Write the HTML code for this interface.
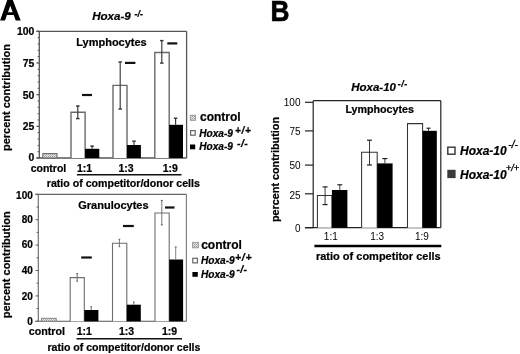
<!DOCTYPE html>
<html><head><meta charset="utf-8"><style>
html,body{margin:0;padding:0;background:#fff;}
svg{display:block;will-change:transform;}
text{font-family:"Liberation Sans", sans-serif;fill:#000;}
text[font-weight="bold"]{stroke:#000;stroke-width:0.22px;}
</style></head><body>
<svg width="520" height="354" viewBox="0 0 520 354">
<defs><pattern id="ht" width="2" height="2" patternUnits="userSpaceOnUse"><rect width="2" height="2" fill="#e6e6e6"/><rect width="1" height="1" fill="#9a9a9a"/><rect x="1" y="1" width="1" height="1" fill="#b5b5b5"/></pattern></defs>
<rect width="520" height="354" fill="#fff"/>
<path d="M0.1,20.4 L7.6,-1 L12.4,-1 L20.7,20.4 L15.7,20.4 L13.7,14.9 L6.9,14.9 L5.0,20.4 Z M10.3,5.8 L8.0,12.2 L12.7,12.2 Z" fill="#000" fill-rule="evenodd"/>
<g transform="translate(272.2,20.5) scale(0.905,1)"><text x="-1.9" y="0" font-size="29" font-weight="bold" style="stroke-width:0.7px">B</text></g>
<line x1="39.30" y1="31.30" x2="39.30" y2="158.00" stroke="#555" stroke-width="1.3"/>
<line x1="36.50" y1="31.30" x2="186.60" y2="31.30" stroke="#555" stroke-width="1.3"/>
<line x1="186.60" y1="31.30" x2="186.60" y2="158.00" stroke="#555" stroke-width="1.3"/>
<line x1="36.50" y1="158.00" x2="186.60" y2="158.00" stroke="#555" stroke-width="1.3"/>
<line x1="36.50" y1="158.00" x2="39.30" y2="158.00" stroke="#555" stroke-width="1.3"/>
<text x="34.40" y="161.22" font-size="10.4" font-weight="bold" font-style="normal" text-anchor="end" >0</text>
<line x1="36.50" y1="126.33" x2="39.30" y2="126.33" stroke="#555" stroke-width="1.3"/>
<text x="34.40" y="129.72" font-size="10.4" font-weight="bold" font-style="normal" text-anchor="end" >25</text>
<line x1="36.50" y1="94.65" x2="39.30" y2="94.65" stroke="#555" stroke-width="1.3"/>
<text x="34.40" y="99.12" font-size="10.4" font-weight="bold" font-style="normal" text-anchor="end" >50</text>
<line x1="36.50" y1="62.98" x2="39.30" y2="62.98" stroke="#555" stroke-width="1.3"/>
<text x="34.40" y="67.42" font-size="10.4" font-weight="bold" font-style="normal" text-anchor="end" >75</text>
<line x1="36.50" y1="31.30" x2="39.30" y2="31.30" stroke="#555" stroke-width="1.3"/>
<text x="34.40" y="34.92" font-size="10.4" font-weight="bold" font-style="normal" text-anchor="end" >100</text>
<line x1="37.50" y1="151.66" x2="39.30" y2="151.66" stroke="#555" stroke-width="0.9"/>
<line x1="37.50" y1="145.33" x2="39.30" y2="145.33" stroke="#555" stroke-width="0.9"/>
<line x1="37.50" y1="139.00" x2="39.30" y2="139.00" stroke="#555" stroke-width="0.9"/>
<line x1="37.50" y1="132.66" x2="39.30" y2="132.66" stroke="#555" stroke-width="0.9"/>
<line x1="37.50" y1="119.99" x2="39.30" y2="119.99" stroke="#555" stroke-width="0.9"/>
<line x1="37.50" y1="113.66" x2="39.30" y2="113.66" stroke="#555" stroke-width="0.9"/>
<line x1="37.50" y1="107.32" x2="39.30" y2="107.32" stroke="#555" stroke-width="0.9"/>
<line x1="37.50" y1="100.99" x2="39.30" y2="100.99" stroke="#555" stroke-width="0.9"/>
<line x1="37.50" y1="88.32" x2="39.30" y2="88.32" stroke="#555" stroke-width="0.9"/>
<line x1="37.50" y1="81.98" x2="39.30" y2="81.98" stroke="#555" stroke-width="0.9"/>
<line x1="37.50" y1="75.65" x2="39.30" y2="75.65" stroke="#555" stroke-width="0.9"/>
<line x1="37.50" y1="69.31" x2="39.30" y2="69.31" stroke="#555" stroke-width="0.9"/>
<line x1="37.50" y1="56.64" x2="39.30" y2="56.64" stroke="#555" stroke-width="0.9"/>
<line x1="37.50" y1="50.31" x2="39.30" y2="50.31" stroke="#555" stroke-width="0.9"/>
<line x1="37.50" y1="43.97" x2="39.30" y2="43.97" stroke="#555" stroke-width="0.9"/>
<line x1="37.50" y1="37.64" x2="39.30" y2="37.64" stroke="#555" stroke-width="0.9"/>
<text transform="translate(10.30,97.60) rotate(-90)" x="0" y="0" font-size="11" font-weight="bold" text-anchor="middle">percent contribution</text>
<text x="111.50" y="20.20" font-size="11.6" font-weight="bold" font-style="italic" text-anchor="middle" >Hoxa-9</text>
<text x="134.40" y="17.10" font-size="9" font-weight="bold" font-style="italic" text-anchor="start" >-/-</text>
<text x="111.50" y="46.00" font-size="11" font-weight="bold" font-style="normal" text-anchor="middle" >Lymphocytes</text>
<rect x="42.80" y="153.60" width="14.20" height="4.40" fill="url(#ht)" stroke="#666" stroke-width="1"/>
<path d="M71.00,158.00 V112.30 H85.10 V158.00" fill="#fff" stroke="#6a6a6a" stroke-width="1.4"/>
<rect x="85.10" y="148.80" width="14.20" height="9.20" fill="#000"/>
<path d="M113.00,158.00 V85.40 H127.00 V158.00" fill="#fff" stroke="#6a6a6a" stroke-width="1.4"/>
<rect x="127.00" y="145.00" width="13.90" height="13.00" fill="#000"/>
<path d="M154.80,158.00 V52.50 H169.20 V158.00" fill="#fff" stroke="#6a6a6a" stroke-width="1.4"/>
<rect x="169.20" y="124.80" width="13.80" height="33.20" fill="#000"/>
<line x1="77.80" y1="106.00" x2="77.80" y2="118.60" stroke="#333" stroke-width="1.15"/>
<line x1="76.05" y1="106.00" x2="79.55" y2="106.00" stroke="#333" stroke-width="1.45"/>
<line x1="76.05" y1="118.60" x2="79.55" y2="118.60" stroke="#333" stroke-width="1.45"/>
<line x1="92.10" y1="146.10" x2="92.10" y2="148.80" stroke="#333" stroke-width="1.15"/>
<line x1="90.35" y1="146.10" x2="93.85" y2="146.10" stroke="#333" stroke-width="1.45"/>
<line x1="120.20" y1="62.00" x2="120.20" y2="109.00" stroke="#3a3a3a" stroke-width="1.15"/>
<line x1="118.45" y1="62.00" x2="121.95" y2="62.00" stroke="#3a3a3a" stroke-width="1.45"/>
<line x1="118.45" y1="109.00" x2="121.95" y2="109.00" stroke="#3a3a3a" stroke-width="1.45"/>
<line x1="134.00" y1="141.20" x2="134.00" y2="145.00" stroke="#333" stroke-width="1.15"/>
<line x1="132.25" y1="141.20" x2="135.75" y2="141.20" stroke="#333" stroke-width="1.45"/>
<line x1="161.80" y1="40.60" x2="161.80" y2="63.10" stroke="#3a3a3a" stroke-width="1.15"/>
<line x1="160.05" y1="40.60" x2="163.55" y2="40.60" stroke="#3a3a3a" stroke-width="1.45"/>
<line x1="160.05" y1="63.10" x2="163.55" y2="63.10" stroke="#3a3a3a" stroke-width="1.45"/>
<line x1="175.60" y1="118.20" x2="175.60" y2="124.80" stroke="#333" stroke-width="1.15"/>
<line x1="173.85" y1="118.20" x2="177.35" y2="118.20" stroke="#333" stroke-width="1.45"/>
<line x1="82.00" y1="95.00" x2="92.00" y2="95.00" stroke="#111" stroke-width="2.2"/>
<line x1="125.00" y1="62.90" x2="135.40" y2="62.90" stroke="#111" stroke-width="2.2"/>
<line x1="167.30" y1="43.40" x2="177.30" y2="43.40" stroke="#111" stroke-width="2.2"/>
<rect x="190.30" y="115.30" width="5.20" height="5.00" fill="url(#ht)" stroke="#999" stroke-width="1"/>
<text x="200.00" y="120.50" font-size="12" font-weight="bold" font-style="normal" text-anchor="start" >control</text>
<rect x="190.60" y="130.60" width="4.60" height="4.60" fill="#fff" stroke="#666" stroke-width="1.2"/>
<text x="199.30" y="136.90" font-size="10.1" font-weight="bold" font-style="italic" text-anchor="start" >Hoxa-9</text>
<text x="234.90" y="133.90" font-size="10" font-weight="bold" font-style="italic" text-anchor="start" letter-spacing="0.7">+/+</text>
<rect x="190.00" y="144.50" width="5.20" height="4.80" fill="#000"/>
<text x="199.30" y="149.70" font-size="10.1" font-weight="bold" font-style="italic" text-anchor="start" >Hoxa-9</text>
<text x="236.90" y="147.40" font-size="10.5" font-weight="bold" font-style="italic" text-anchor="start" letter-spacing="0.5">-/-</text>
<text x="48.50" y="171.60" font-size="10.5" font-weight="bold" font-style="normal" text-anchor="middle" >control</text>
<text x="84.50" y="171.50" font-size="10.5" font-weight="bold" font-style="normal" text-anchor="middle" >1:1</text>
<text x="126.00" y="171.50" font-size="10.5" font-weight="bold" font-style="normal" text-anchor="middle" >1:3</text>
<text x="170.30" y="171.50" font-size="10.5" font-weight="bold" font-style="normal" text-anchor="middle" >1:9</text>
<line x1="76.90" y1="174.70" x2="181.50" y2="174.70" stroke="#111" stroke-width="1.5"/>
<text x="46.80" y="186.70" font-size="10.6" font-weight="bold" font-style="normal" text-anchor="start" >ratio of competitor/donor cells</text>
<line x1="38.30" y1="194.30" x2="38.30" y2="321.30" stroke="#666" stroke-width="1.1"/>
<line x1="35.50" y1="194.30" x2="186.40" y2="194.30" stroke="#666" stroke-width="1.2"/>
<line x1="186.40" y1="194.30" x2="186.40" y2="321.30" stroke="#777" stroke-width="1.1"/>
<line x1="35.50" y1="321.30" x2="186.40" y2="321.30" stroke="#555" stroke-width="1.1"/>
<line x1="35.50" y1="321.30" x2="38.30" y2="321.30" stroke="#666" stroke-width="1.1"/>
<text x="32.80" y="324.65" font-size="10" font-weight="bold" font-style="normal" text-anchor="end" >0</text>
<line x1="35.50" y1="295.90" x2="38.30" y2="295.90" stroke="#666" stroke-width="1.1"/>
<text x="32.80" y="299.65" font-size="10" font-weight="bold" font-style="normal" text-anchor="end" >20</text>
<line x1="35.50" y1="270.50" x2="38.30" y2="270.50" stroke="#666" stroke-width="1.1"/>
<text x="32.80" y="274.00" font-size="10" font-weight="bold" font-style="normal" text-anchor="end" >40</text>
<line x1="35.50" y1="245.10" x2="38.30" y2="245.10" stroke="#666" stroke-width="1.1"/>
<text x="32.80" y="248.30" font-size="10" font-weight="bold" font-style="normal" text-anchor="end" >60</text>
<line x1="35.50" y1="219.70" x2="38.30" y2="219.70" stroke="#666" stroke-width="1.1"/>
<text x="32.80" y="223.40" font-size="10" font-weight="bold" font-style="normal" text-anchor="end" >80</text>
<line x1="35.50" y1="194.30" x2="38.30" y2="194.30" stroke="#666" stroke-width="1.1"/>
<text x="32.80" y="198.80" font-size="10" font-weight="bold" font-style="normal" text-anchor="end" >100</text>
<line x1="36.50" y1="308.60" x2="38.30" y2="308.60" stroke="#555" stroke-width="0.9"/>
<line x1="36.50" y1="283.20" x2="38.30" y2="283.20" stroke="#555" stroke-width="0.9"/>
<line x1="36.50" y1="257.80" x2="38.30" y2="257.80" stroke="#555" stroke-width="0.9"/>
<line x1="36.50" y1="232.40" x2="38.30" y2="232.40" stroke="#555" stroke-width="0.9"/>
<line x1="36.50" y1="207.00" x2="38.30" y2="207.00" stroke="#555" stroke-width="0.9"/>
<text transform="translate(10.00,264.80) rotate(-90)" x="0" y="0" font-size="11" font-weight="bold" text-anchor="middle">percent contribution</text>
<text x="113.40" y="208.80" font-size="11" font-weight="bold" font-style="normal" text-anchor="middle" >Granulocytes</text>
<rect x="41.50" y="318.30" width="14.70" height="3.00" fill="url(#ht)" stroke="#888" stroke-width="1"/>
<path d="M70.20,321.30 V277.60 H84.30 V321.30" fill="#fff" stroke="#6e6e6e" stroke-width="1.1"/>
<rect x="84.30" y="310.00" width="14.10" height="11.30" fill="#000"/>
<path d="M112.50,321.30 V243.20 H126.80 V321.30" fill="#fff" stroke="#6e6e6e" stroke-width="1.1"/>
<rect x="126.80" y="304.70" width="14.00" height="16.60" fill="#000"/>
<path d="M155.00,321.30 V213.00 H169.20 V321.30" fill="#fff" stroke="#6e6e6e" stroke-width="1.1"/>
<rect x="169.20" y="259.50" width="13.90" height="61.80" fill="#000"/>
<line x1="77.20" y1="273.60" x2="77.20" y2="281.20" stroke="#666" stroke-width="0.9"/>
<line x1="76.40" y1="273.60" x2="78.00" y2="273.60" stroke="#666" stroke-width="1.2"/>
<line x1="76.40" y1="281.20" x2="78.00" y2="281.20" stroke="#666" stroke-width="1.2"/>
<line x1="91.20" y1="306.80" x2="91.20" y2="310.00" stroke="#666" stroke-width="0.9"/>
<line x1="90.40" y1="306.80" x2="92.00" y2="306.80" stroke="#666" stroke-width="1.2"/>
<line x1="119.40" y1="239.40" x2="119.40" y2="246.60" stroke="#666" stroke-width="0.9"/>
<line x1="118.60" y1="239.40" x2="120.20" y2="239.40" stroke="#666" stroke-width="1.2"/>
<line x1="118.60" y1="246.60" x2="120.20" y2="246.60" stroke="#666" stroke-width="1.2"/>
<line x1="133.80" y1="302.00" x2="133.80" y2="304.70" stroke="#666" stroke-width="0.9"/>
<line x1="133.00" y1="302.00" x2="134.60" y2="302.00" stroke="#666" stroke-width="1.2"/>
<line x1="161.80" y1="200.50" x2="161.80" y2="224.80" stroke="#666" stroke-width="0.9"/>
<line x1="160.80" y1="200.50" x2="162.80" y2="200.50" stroke="#666" stroke-width="1.2"/>
<line x1="160.80" y1="224.80" x2="162.80" y2="224.80" stroke="#666" stroke-width="1.2"/>
<line x1="175.70" y1="247.00" x2="175.70" y2="259.50" stroke="#777" stroke-width="0.9"/>
<line x1="174.70" y1="247.00" x2="176.70" y2="247.00" stroke="#777" stroke-width="1.2"/>
<line x1="81.20" y1="257.50" x2="91.80" y2="257.50" stroke="#111" stroke-width="2.2"/>
<line x1="123.00" y1="226.00" x2="133.80" y2="226.00" stroke="#111" stroke-width="2.2"/>
<line x1="165.00" y1="207.50" x2="174.50" y2="207.50" stroke="#111" stroke-width="2.2"/>
<rect x="192.60" y="242.40" width="5.80" height="5.40" fill="url(#ht)" stroke="#999" stroke-width="1"/>
<text x="201.20" y="248.50" font-size="12" font-weight="bold" font-style="normal" text-anchor="start" >control</text>
<rect x="192.80" y="258.30" width="4.60" height="4.60" fill="#fff" stroke="#666" stroke-width="1.2"/>
<text x="201.00" y="263.90" font-size="10.1" font-weight="bold" font-style="italic" text-anchor="start" >Hoxa-9</text>
<text x="235.00" y="260.60" font-size="10.5" font-weight="bold" font-style="italic" text-anchor="start" letter-spacing="0.7">+/+</text>
<rect x="192.40" y="272.00" width="5.40" height="4.80" fill="#000"/>
<text x="201.00" y="277.80" font-size="10.1" font-weight="bold" font-style="italic" text-anchor="start" >Hoxa-9</text>
<text x="236.40" y="273.30" font-size="10.5" font-weight="bold" font-style="italic" text-anchor="start" letter-spacing="0.3">-/-</text>
<text x="46.80" y="334.60" font-size="10.7" font-weight="bold" font-style="normal" text-anchor="middle" >control</text>
<text x="84.30" y="334.60" font-size="10.5" font-weight="bold" font-style="normal" text-anchor="middle" >1:1</text>
<text x="126.60" y="334.60" font-size="10.5" font-weight="bold" font-style="normal" text-anchor="middle" >1:3</text>
<text x="169.60" y="334.60" font-size="10.5" font-weight="bold" font-style="normal" text-anchor="middle" >1:9</text>
<line x1="76.50" y1="338.70" x2="182.00" y2="338.70" stroke="#111" stroke-width="1.5"/>
<text x="47.40" y="351.10" font-size="10.6" font-weight="bold" font-style="normal" text-anchor="start" >ratio of competitor/donor cells</text>
<line x1="313.20" y1="100.70" x2="313.20" y2="227.70" stroke="#222" stroke-width="1.2"/>
<line x1="313.20" y1="100.70" x2="440.80" y2="100.70" stroke="#222" stroke-width="1.2"/>
<line x1="440.80" y1="100.70" x2="440.80" y2="227.70" stroke="#222" stroke-width="1.2"/>
<line x1="305.00" y1="227.70" x2="440.80" y2="227.70" stroke="#222" stroke-width="1.2"/>
<line x1="305.00" y1="102.30" x2="313.20" y2="102.30" stroke="#222" stroke-width="1.2"/>
<text x="300.50" y="105.80" font-size="10" font-weight="normal" font-style="normal" text-anchor="end" >100</text>
<line x1="305.00" y1="130.90" x2="313.20" y2="130.90" stroke="#222" stroke-width="1.2"/>
<text x="300.50" y="135.00" font-size="10" font-weight="normal" font-style="normal" text-anchor="end" >75</text>
<line x1="305.00" y1="165.10" x2="313.20" y2="165.10" stroke="#222" stroke-width="1.2"/>
<text x="300.50" y="168.90" font-size="10" font-weight="normal" font-style="normal" text-anchor="end" >50</text>
<line x1="305.00" y1="193.80" x2="313.20" y2="193.80" stroke="#222" stroke-width="1.2"/>
<text x="300.50" y="199.00" font-size="10" font-weight="normal" font-style="normal" text-anchor="end" >25</text>
<line x1="305.00" y1="227.70" x2="313.20" y2="227.70" stroke="#222" stroke-width="1.2"/>
<text x="300.50" y="231.50" font-size="10" font-weight="normal" font-style="normal" text-anchor="end" >0</text>
<text transform="translate(279.00,169.50) rotate(-90)" x="0" y="0" font-size="10.8" font-weight="bold" text-anchor="middle">percent contribution</text>
<text x="351.20" y="90.60" font-size="11.5" font-weight="bold" font-style="italic" text-anchor="start" >Hoxa-10</text>
<text x="397.80" y="87.20" font-size="8.8" font-weight="bold" font-style="italic" text-anchor="start" letter-spacing="0.6">-/-</text>
<text x="379.70" y="113.20" font-size="10.7" font-weight="bold" font-style="normal" text-anchor="middle" >Lymphocytes</text>
<path d="M317.40,227.70 V195.50 H331.90 V227.70" fill="#fff" stroke="#333" stroke-width="1.05"/>
<rect x="331.90" y="190.00" width="15.50" height="37.70" fill="#000"/>
<path d="M361.60,227.70 V152.30 H377.20 V227.70" fill="#fff" stroke="#333" stroke-width="1.05"/>
<rect x="377.20" y="163.40" width="15.40" height="64.30" fill="#000"/>
<path d="M407.50,227.70 V123.60 H422.60 V227.70" fill="#fff" stroke="#333" stroke-width="1.05"/>
<rect x="422.60" y="130.80" width="14.20" height="96.90" fill="#000"/>
<line x1="325.10" y1="186.90" x2="325.10" y2="204.60" stroke="#1a1a1a" stroke-width="0.85"/>
<line x1="322.60" y1="186.90" x2="327.60" y2="186.90" stroke="#1a1a1a" stroke-width="1.15"/>
<line x1="322.60" y1="204.60" x2="327.60" y2="204.60" stroke="#1a1a1a" stroke-width="1.15"/>
<line x1="339.80" y1="184.80" x2="339.80" y2="190.00" stroke="#1a1a1a" stroke-width="0.85"/>
<line x1="337.30" y1="184.80" x2="342.30" y2="184.80" stroke="#1a1a1a" stroke-width="1.15"/>
<line x1="369.50" y1="140.20" x2="369.50" y2="165.00" stroke="#1a1a1a" stroke-width="0.85"/>
<line x1="367.00" y1="140.20" x2="372.00" y2="140.20" stroke="#1a1a1a" stroke-width="1.15"/>
<line x1="367.00" y1="165.00" x2="372.00" y2="165.00" stroke="#1a1a1a" stroke-width="1.15"/>
<line x1="384.90" y1="158.60" x2="384.90" y2="163.40" stroke="#1a1a1a" stroke-width="0.85"/>
<line x1="382.40" y1="158.60" x2="387.40" y2="158.60" stroke="#1a1a1a" stroke-width="1.15"/>
<line x1="428.50" y1="128.20" x2="428.50" y2="130.80" stroke="#1a1a1a" stroke-width="0.85"/>
<line x1="426.50" y1="128.20" x2="430.50" y2="128.20" stroke="#1a1a1a" stroke-width="1.15"/>
<text x="330.80" y="240.30" font-size="10" font-weight="normal" font-style="normal" text-anchor="middle" >1:1</text>
<text x="377.20" y="240.30" font-size="10" font-weight="normal" font-style="normal" text-anchor="middle" >1:3</text>
<text x="421.90" y="240.30" font-size="10" font-weight="normal" font-style="normal" text-anchor="middle" >1:9</text>
<line x1="314.40" y1="246.00" x2="441.30" y2="246.00" stroke="#000" stroke-width="2.3"/>
<text x="378.30" y="260.30" font-size="11" font-weight="bold" font-style="normal" text-anchor="middle" >ratio of competitor cells</text>
<rect x="447.80" y="147.20" width="7.20" height="7.00" fill="#fff" stroke="#333" stroke-width="1.4"/>
<text x="460.00" y="155.00" font-size="12" font-weight="bold" font-style="italic" text-anchor="start" >Hoxa-10</text>
<text x="508.30" y="147.90" font-size="10" font-weight="normal" font-style="italic" text-anchor="start" style="stroke:#000;stroke-width:0.35px">-/-</text>
<rect x="447.30" y="169.80" width="8.30" height="8.30" fill="#3a3a3a"/>
<text x="460.00" y="179.10" font-size="12" font-weight="bold" font-style="italic" text-anchor="start" >Hoxa-10</text>
<text x="506.00" y="170.50" font-size="9" font-weight="normal" font-style="italic" text-anchor="start" style="stroke:#000;stroke-width:0.35px">+/+</text>
</svg>
</body></html>
